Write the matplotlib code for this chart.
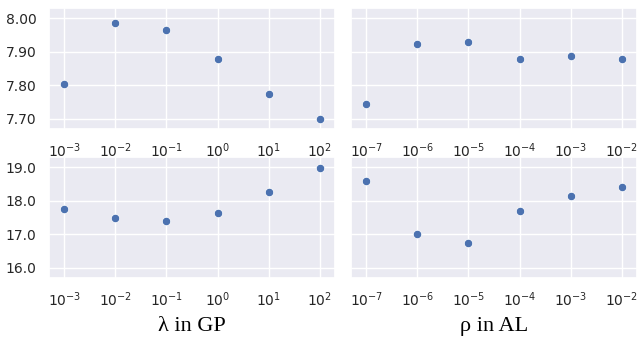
import matplotlib
matplotlib.use("Agg")
import matplotlib.pyplot as plt
import seaborn as sns
from matplotlib.ticker import FixedLocator, FormatStrFormatter

sns.set_theme(style="darkgrid")

# hyper-parameter grids
lam_gp = [1e-3, 1e-2, 1e-1, 1e0, 1e1, 1e2]
rho_al = [1e-7, 1e-6, 1e-5, 1e-4, 1e-3, 1e-2]

# top row metric
top_gp = [7.804, 7.986, 7.966, 7.879, 7.774, 7.700]
top_al = [7.745, 7.922, 7.930, 7.879, 7.888, 7.879]

# bottom row metric
bot_gp = [17.74, 17.50, 17.39, 17.64, 18.25, 18.96]
bot_al = [18.59, 17.00, 16.74, 17.70, 18.14, 18.42]

top_ticks = [7.70, 7.80, 7.90, 8.00]
bot_ticks = [16.0, 17.0, 18.0, 19.0]

fig = plt.figure(figsize=(6.38, 3.37), dpi=100)
W, H = 638, 337

def make_ax(x0, y0, x1, y1):
    return fig.add_axes([x0 / W, 1 - y1 / H, (x1 - x0) / W, (y1 - y0) / H])

ax_tl = make_ax(49, 8, 335, 129)
ax_tr = make_ax(351, 8, 637, 129)
ax_bl = make_ax(49, 157, 335, 278)
ax_br = make_ax(351, 157, 637, 278)

panels = [
    (ax_tl, lam_gp, top_gp, top_ticks, "%.2f", (7.67, 8.03), True),
    (ax_tr, rho_al, top_al, top_ticks, "%.2f", (7.67, 8.03), False),
    (ax_bl, lam_gp, bot_gp, bot_ticks, "%.1f", (15.7, 19.3), True),
    (ax_br, rho_al, bot_al, bot_ticks, "%.1f", (15.7, 19.3), False),
]

for ax, xs, ys, yt, fmt, ylim, show_y in panels:
    ax.scatter(xs, ys, s=36, color="#4c72b0", edgecolor="white", linewidth=0.5, zorder=3)
    ax.set_xscale("log")
    ax.set_xlim(xs[0] / 10 ** 0.3, xs[-1] * 10 ** 0.3)
    ax.xaxis.set_major_locator(FixedLocator(xs))
    ax.xaxis.set_minor_locator(FixedLocator([]))
    ax.set_ylim(*ylim)
    ax.set_yticks(yt)
    ax.yaxis.set_major_formatter(FormatStrFormatter(fmt))
    ax.tick_params(labelsize=10, colors="#262626", pad=3)
    if not show_y:
        ax.tick_params(axis="y", labelleft=False)

ax_bl.set_xlabel("λ in GP", family="Liberation Serif", fontsize=16, color="black", labelpad=6)
ax_br.set_xlabel("ρ in AL", family="Liberation Serif", fontsize=16, color="black", labelpad=6)

plt.savefig("out.png")
plt.close(fig)
